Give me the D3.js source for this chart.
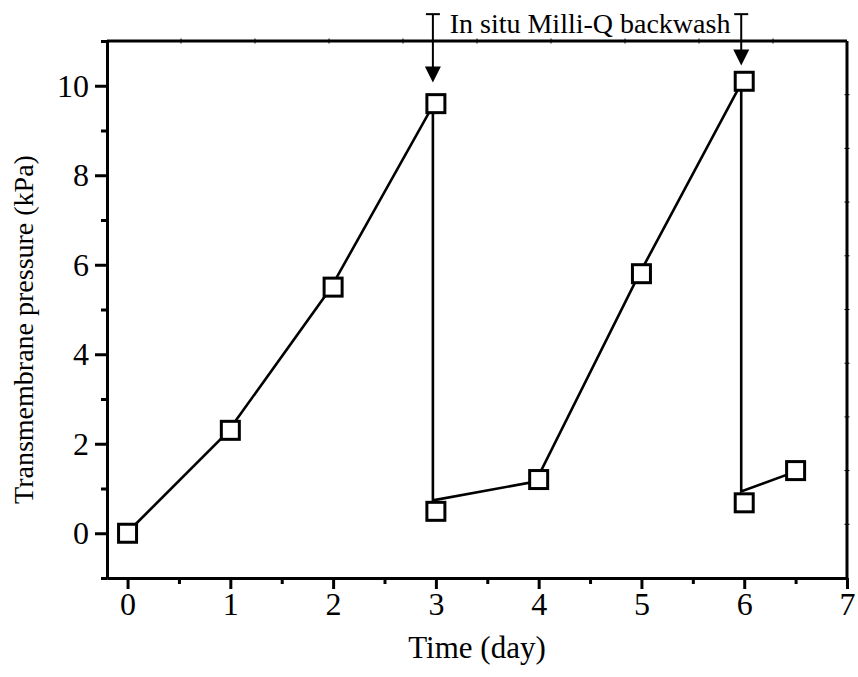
<!DOCTYPE html>
<meta charset="utf-8">
<script src="https://d3js.org/d3.v7.min.js"></script>
<style>
  body { margin: 0; background: #fff; }
  text { font-family: "Liberation Serif", "Times New Roman", serif; fill: #000; }
</style>
<div id="chart"></div>
<script>

// measured points (markers)
var dayX = [0, 1, 2, 3, 3, 4, 5, 6, 6, 6.5];
var tmpY = [0, 2.3, 5.5, 9.6, 0.49, 1.2, 5.8, 10.1, 0.68, 1.4];

// connecting line (joins at the top of the post-backwash markers)
var lineX = [0, 1, 2, 3, 3, 4, 5, 6, 6, 6.5];
var lineY = [0, 2.3, 5.5, 9.6, 0.78, 1.2, 5.8, 10.1, 0.98, 1.4];

// backwash arrows
var arrowX = [3, 6];
var arrowTip = [10.07, 10.45];
var arrowTop = 11.6;
var noteText = "In situ Milli-Q backwash";

var xMajor = [0, 1, 2, 3, 4, 5, 6, 7];
var xMinor = [0.5, 1.5, 2.5, 3.5, 4.5, 5.5, 6.5];
var yMajor = [0, 2, 4, 6, 8, 10];
var yMinor = [-1, 1, 3, 5, 7, 9, 11];

var margin = {top: 41, right: 11, bottom: 99, left: 107},
    width = 858 - margin.left - margin.right,
    height = 677 - margin.top - margin.bottom;

var svg = d3.select("#chart")
  .append("svg")
    .attr("width", 858)
    .attr("height", 677)
  .append("g")
    .attr("transform", "translate(" + margin.left + "," + margin.top + ")");

var x = d3.scaleLinear().domain([-0.2, 7]).range([0, width]);
var y = d3.scaleLinear().domain([-1, 11]).range([height, 0]);

// frame: top and right sides with tiny ticks
var frame = d3.scaleLinear().domain([0, 10]);
svg.append("line").attr("x1", 0).attr("x2", width).attr("y1", 0).attr("y2", 0)
  .attr("stroke", "#000").attr("stroke-width", 3);
svg.append("line").attr("x1", width).attr("x2", width).attr("y1", 0).attr("y2", height)
  .attr("stroke", "#000").attr("stroke-width", 3);
svg.selectAll(".tt").data(d3.range(1, 10)).enter().append("line")
  .attr("x1", function(d) { return frame.range([0, width])(d); })
  .attr("x2", function(d) { return frame.range([0, width])(d); })
  .attr("y1", -2.5).attr("y2", 2.5)
  .attr("stroke", "#000").attr("stroke-width", 1);
svg.selectAll(".rt").data(d3.range(1, 10)).enter().append("line")
  .attr("y1", function(d) { return frame.range([0, height])(d); })
  .attr("y2", function(d) { return frame.range([0, height])(d); })
  .attr("x1", width - 2.5).attr("x2", width + 2.5)
  .attr("stroke", "#000").attr("stroke-width", 1);

function styleAxis(g) {
  g.select(".domain").attr("stroke-width", 3);
  g.selectAll(".tick line").attr("stroke-width", 3);
  g.selectAll(".tick text")
    .style("font-family", "'Liberation Serif', 'Times New Roman', serif")
    .style("font-size", "32px");
}

// x axis
svg.append("g")
  .attr("transform", "translate(0," + height + ")")
  .call(d3.axisBottom(x).tickValues(xMinor).tickSize(6).tickSizeOuter(0).tickFormat(""))
  .call(styleAxis);
svg.append("g")
  .attr("transform", "translate(0," + height + ")")
  .call(d3.axisBottom(x).tickValues(xMajor).tickSize(11).tickSizeOuter(0).tickPadding(3))
  .call(styleAxis);

// y axis
svg.append("g")
  .call(d3.axisLeft(y).tickValues(yMinor).tickSize(6).tickSizeOuter(0).tickFormat(""))
  .call(styleAxis);
svg.append("g")
  .call(d3.axisLeft(y).tickValues(yMajor).tickSize(12).tickSizeOuter(0).tickPadding(6))
  .call(styleAxis);

// axis titles
svg.append("text")
  .attr("x", width / 2)
  .attr("y", height + 80)
  .attr("text-anchor", "middle")
  .style("font-size", "31px")
  .text("Time (day)");

svg.append("text")
  .attr("transform", "translate(" + (-74) + "," + (height / 2 + 20) + ") rotate(-90)")
  .attr("text-anchor", "middle")
  .style("font-size", "28px")
  .text("Transmembrane pressure (kPa)");

// line (drawn slightly offset from the markers, as in the original)
var line = d3.line()
  .x(function(d, i) { return x(lineX[i]); })
  .y(function(d, i) { return y(lineY[i]); });

var shifted = svg.append("g").attr("transform", "translate(-3,2)");
shifted.append("path")
  .datum(lineX)
  .attr("d", line)
  .attr("fill", "none")
  .attr("stroke", "#000")
  .attr("stroke-width", 2.6);

// arrows
var ann = svg.append("g").attr("transform", "translate(-3,0)");
ann.selectAll(".stem").data(arrowX).enter().append("line")
  .attr("x1", function(d) { return x(d); })
  .attr("x2", function(d) { return x(d); })
  .attr("y1", y(arrowTop))
  .attr("y2", function(d, i) { return y(arrowTip[i]) - 10; })
  .attr("stroke", "#000").attr("stroke-width", 2);
ann.selectAll(".cap").data(arrowX).enter().append("line")
  .attr("x1", function(d) { return x(d) - 7; })
  .attr("x2", function(d) { return x(d) + 7; })
  .attr("y1", y(arrowTop))
  .attr("y2", y(arrowTop))
  .attr("stroke", "#000").attr("stroke-width", 2);
ann.selectAll(".head").data(arrowX).enter().append("path")
  .attr("d", function(d, i) {
    var tx = x(d), ty = y(arrowTip[i]);
    return "M" + (tx - 8) + "," + (ty - 16) + "L" + (tx + 8) + "," + (ty - 16) + "L" + tx + "," + ty + "Z";
  })
  .attr("fill", "#000");

svg.append("text")
  .attr("x", x(4.5))
  .attr("y", y(11.19))
  .attr("text-anchor", "middle")
  .style("font-size", "28px")
  .text(noteText);

// square markers
svg.selectAll(".pt")
  .data(dayX)
  .enter()
  .append("rect")
    .attr("x", function(d) { return x(d) - 9; })
    .attr("y", function(d, i) { return y(tmpY[i]) - 9; })
    .attr("width", 18)
    .attr("height", 18)
    .attr("fill", "#fff")
    .attr("stroke", "#000")
    .attr("stroke-width", 3);

</script>
